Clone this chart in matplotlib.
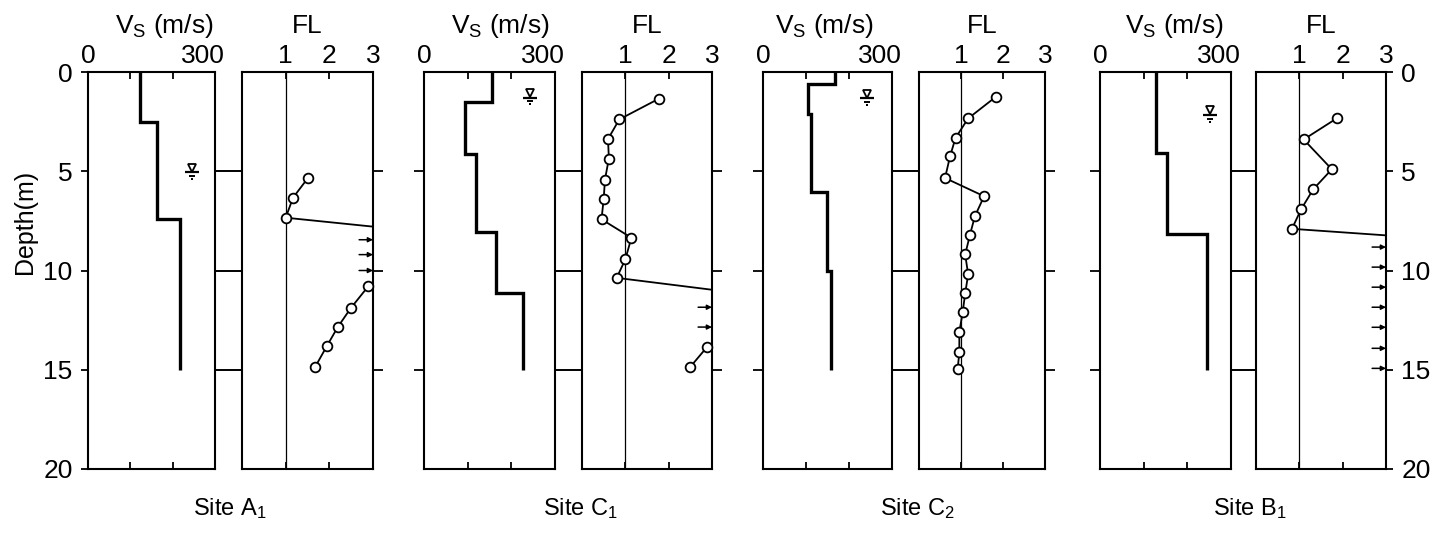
import matplotlib
matplotlib.use('Agg')
import matplotlib.pyplot as plt
import numpy as np
from matplotlib.transforms import blended_transform_factory, offset_copy

plt.rcParams['font.family'] = ['Liberation Sans', 'DejaVu Sans']
plt.rcParams['mathtext.fontset'] = 'custom'
plt.rcParams['mathtext.rm'] = 'Liberation Sans'
plt.rcParams['mathtext.it'] = 'Liberation Sans:italic'

# ---------------- data ----------------
site_names = ['Site A$_\\mathregular{1}$', 'Site C$_\\mathregular{1}$',
              'Site C$_\\mathregular{2}$', 'Site B$_\\mathregular{1}$']

# shear-wave velocity profiles (m/s) with layer boundaries (m)
vs_a1 = [122, 162, 217]
vs_a1_edges = [0, 2.5, 7.4, 15]
vs_c1 = [155, 95, 120, 166, 226]
vs_c1_edges = [0, 1.5, 4.14, 8.07, 11.15, 15]
vs_c2 = [167, 105, 111, 149, 158]
vs_c2_edges = [0, 0.6, 2.1, 6.05, 10.0, 15]
vs_b1 = [128, 154, 246]
vs_b1_edges = [0, 4.1, 8.15, 15]

# ground water table (position on Vs panel, depth m)
wt_vs = [245, 243, 242, 252]
wt_depth = [5.05, 1.3, 1.33, 2.17]

# factor of safety against liquefaction FL
fl_a1_depth = [5.34, 6.33, 7.34, 10.8, 11.9, 12.86, 13.82, 14.88]
fl_a1 = [1.51, 1.17, 1.00, 2.89, 2.49, 2.19, 1.94, 1.67]
fl_a1_exit = 7.79
fl_a1_arrows = [8.45, 9.2, 10.0]

fl_c1_depth = [1.35, 2.39, 3.38, 4.36, 5.42, 6.41, 7.42, 8.35, 9.44, 10.37, 13.87, 14.88]
fl_c1 = [1.77, 0.86, 0.60, 0.62, 0.53, 0.50, 0.45, 1.14, 1.00, 0.80, 2.88, 2.49]
fl_c1_exit = 10.97
fl_c1_arrows = [11.85, 12.85]

fl_c2_depth = [1.25, 2.34, 3.32, 4.24, 5.34, 6.26, 7.27, 8.23, 9.19, 10.2, 11.15, 12.1, 13.1, 14.13, 14.97]
fl_c2 = [1.83, 1.17, 0.87, 0.74, 0.62, 1.55, 1.33, 1.21, 1.10, 1.17, 1.10, 1.04, 0.96, 0.96, 0.92]
fl_c2_exit = None
fl_c2_arrows = []

fl_b1_depth = [2.34, 3.4, 4.9, 5.91, 6.92, 7.9]
fl_b1 = [1.86, 1.10, 1.75, 1.32, 1.04, 0.83]
fl_b1_exit = 8.23
fl_b1_arrows = [8.82, 9.83, 10.84, 11.85, 12.86, 13.92, 14.93]

depth_ticks = [0, 5, 10, 15, 20]
mid_ticks = [5, 10, 15]

vs_sets = [(vs_a1, vs_a1_edges), (vs_c1, vs_c1_edges), (vs_c2, vs_c2_edges), (vs_b1, vs_b1_edges)]
fl_sets = [(fl_a1_depth, fl_a1, fl_a1_exit, fl_a1_arrows),
           (fl_c1_depth, fl_c1, fl_c1_exit, fl_c1_arrows),
           (fl_c2_depth, fl_c2, fl_c2_exit, fl_c2_arrows),
           (fl_b1_depth, fl_b1, fl_b1_exit, fl_b1_arrows)]

# ---------------- layout (pixels) ----------------
W, H, DPI = 1434, 541, 100
TOP, BOT = 72, 469
layout = [(88, 127, 242, 131),
          (424, 131, 582, 130),
          (763, 129, 919, 126),
          (1100, 131, 1256, 130)]
vs_title_x = [164, 500, 824, 1174]
site_x = [230, 580, 917, 1250]
FS = 19

fig = plt.figure(figsize=(W / DPI, H / DPI), dpi=DPI)


def fax(left, width):
    return fig.add_axes([left / W, 1 - BOT / H, width / W, (BOT - TOP) / H])


def water_table(ax, x, d):
    tr = ax.transData
    ax.plot([x], [d], marker='_', ms=10, mew=1.6, color='k')
    ax.plot([x], [d], transform=offset_copy(tr, fig=fig, y=3.4, units='points'),
            marker='v', ms=5.5, mfc='white', mec='k', mew=1.3)
    ax.plot([x], [d], transform=offset_copy(tr, fig=fig, y=-2.6, units='points'),
            marker='_', ms=5, mew=1.4, color='k')
    ax.plot([x], [d], transform=offset_copy(tr, fig=fig, y=-4.8, units='points'),
            marker='_', ms=2, mew=1.4, color='k')


for i in range(4):
    vl, vw, fl_l, fw = layout[i]
    # ----- Vs panel -----
    ax = fax(vl, vw)
    vs, edges = vs_sets[i]
    ax.stairs(vs, edges, orientation='horizontal', baseline=None, color='k', lw=2.4)
    ax.set_xlim(0, 300)
    ax.set_ylim(20, 0)
    ax.set_xticks([0, 100, 200, 300])
    ax.set_xticklabels(['0', '', '', ''])
    ax.tick_params(axis='x', direction='in', top=True, bottom=True, labeltop=True,
                   labelbottom=False, length=5, width=1.3, pad=3, labelsize=FS)
    ax.annotate('300', xy=(300, 0), xytext=(-8.6, 3), textcoords='offset points',
                ha='center', va='bottom', fontsize=FS, annotation_clip=False)
    if i == 0:
        ax.set_yticks(depth_ticks)
        ax.set_yticklabels([str(t) for t in depth_ticks])
        ax.tick_params(axis='y', direction='out', left=True, right=False, length=5,
                       width=1.3, pad=6, labelsize=FS)
    else:
        ax.set_yticks(mid_ticks)
        ax.set_yticklabels([])
        ax.tick_params(axis='y', direction='out', left=True, right=False, length=7.2,
                       width=1.3)
    for s in ax.spines.values():
        s.set_linewidth(1.5)
    water_table(ax, wt_vs[i], wt_depth[i])
    # connectors between Vs and FL panels
    btr = blended_transform_factory(ax.transAxes, ax.transData)
    gap = (fl_l - (vl + vw)) / vw
    for d in mid_ticks:
        ax.plot([1, 1 + gap], [d, d], transform=btr, color='k', lw=1.4, clip_on=False)
    fig.text(vs_title_x[i] / W, 1 - 26 / H, 'V$_\\mathregular{S}$ (m/s)', ha='center',
             va='center', fontsize=FS)

    # ----- FL panel -----
    ax2 = fax(fl_l, fw)
    fd, fv, fexit, farr = fl_sets[i]
    ax2.set_xlim(0, 3)
    ax2.set_ylim(20, 0)
    ax2.axvline(1, color='k', lw=0.9)
    fd = np.array(fd)
    fv = np.array(fv)
    if fexit is None:
        ax2.plot(fv, fd, color='k', lw=1.3)
    else:
        up = fd < fexit
        lo = ~up
        ax2.plot(np.append(fv[up], 3.0), np.append(fd[up], fexit), color='k', lw=1.3)
        ax2.plot(fv[lo], fd[lo], color='k', lw=1.3, clip_on=False)
    ax2.plot(fv, fd, ls='none', marker='o', ms=7, mfc='white', mec='k', mew=1.3,
             clip_on=False, zorder=5)
    for d in farr:
        ax2.annotate('', xy=(3, d), xytext=(-10, 0), textcoords='offset points',
                     arrowprops=dict(arrowstyle='-|>', color='k', lw=1.1,
                                     mutation_scale=7, shrinkA=0, shrinkB=0),
                     annotation_clip=False)
    ax2.set_xticks([1, 2, 3])
    ax2.set_xticklabels(['1', '2', '3'])
    ax2.tick_params(axis='x', direction='in', top=True, bottom=True, labeltop=True,
                    labelbottom=False, length=5, width=1.3, pad=3, labelsize=FS)
    if i == 3:
        ax2.set_yticks(depth_ticks)
        ax2.set_yticklabels([str(t) for t in depth_ticks])
        ax2.tick_params(axis='y', direction='out', left=False, right=True, labelleft=False,
                        labelright=True, length=5, width=1.3, pad=6, labelsize=FS)
    else:
        ax2.set_yticks(mid_ticks)
        ax2.set_yticklabels([])
        ax2.tick_params(axis='y', direction='out', left=False, right=True, length=7.2,
                        width=1.3)
    for s in ax2.spines.values():
        s.set_linewidth(1.5)
    fig.text((fl_l + fw / 2) / W, 1 - 26 / H, 'FL', ha='center', va='center', fontsize=FS)

    fig.text(site_x[i] / W, 1 - 509 / H, site_names[i], ha='center', va='center',
             fontsize=17)

fig.text(25 / W, 1 - 222 / H, 'Depth(m)', rotation=90, ha='center', va='center',
         fontsize=18)

fig.savefig('out.png', dpi=DPI)
